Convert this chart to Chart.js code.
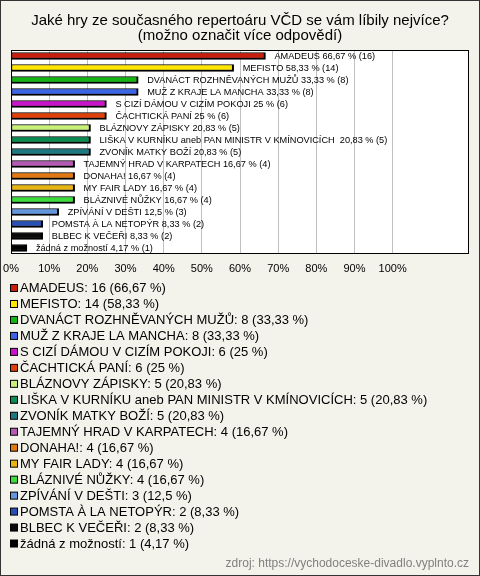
<!DOCTYPE html>
<html>
<head>
<meta charset="utf-8">
<script src="https://cdn.jsdelivr.net/npm/chart.js@4"></script>
<style>
  html, body { margin: 0; padding: 0; background: #f4f3eb; }
  #wrap { width: 480px; height: 576px; position: relative; }
</style>
</head>
<body>
<div id="wrap"><canvas id="hry" width="480" height="576"></canvas></div>
<script>
const categories = ['AMADEUS', 'MEFISTO', 'DVANÁCT ROZHNĚVANÝCH MUŽŮ', 'MUŽ Z KRAJE LA MANCHA',
  'S CIZÍ DÁMOU V CIZÍM POKOJI', 'ČACHTICKÁ PANÍ', 'BLÁZNOVY ZÁPISKY',
  'LIŠKA V KURNÍKU aneb PAN MINISTR V KMÍNOVICÍCH ', 'ZVONÍK MATKY BOŽÍ',
  'TAJEMNÝ HRAD V KARPATECH', 'DONAHA!', 'MY FAIR LADY', 'BLÁZNIVÉ NŮŽKY',
  'ZPÍVÁNÍ V DEŠTI', 'POMSTA À LA NETOPÝR', 'BLBEC K VEČEŘI', 'žádná z možností'];
const counts = [16, 14, 8, 8, 6, 6, 5, 5, 5, 4, 4, 4, 4, 3, 2, 2, 1];
const percents = ['66,67', '58,33', '33,33', '33,33', '25', '25', '20,83', '20,83', '20,83',
  '16,67', '16,67', '16,67', '16,67', '12,5', '8,33', '8,33', '4,17'];
const percentValues = [66.67, 58.33, 33.33, 33.33, 25, 25, 20.83, 20.83, 20.83,
  16.67, 16.67, 16.67, 16.67, 12.5, 8.33, 8.33, 4.17];
const colors = ['#c81e0e', '#ffe600', '#14b414', '#3c64e6', '#c814c8', '#e0400a', '#c8f078',
  '#0a8c50', '#1e7882', '#b45ab4', '#e07814', '#e6b414', '#3cdc3c', '#6496dc', '#2850b4',
  '#0a0a0a', '#000000'];
const tickValues = [0, 10, 20, 30, 40, 50, 60, 70, 80, 90, 100];
const titleLines = ['Jaké hry ze současného repertoáru VČD se vám líbily nejvíce?', '(možno označit více odpovědí)'];
const footer = 'zdroj: https://vychodoceske-divadlo.vyplnto.cz';

const FONT = '"Liberation Sans", Arial, sans-serif';

// background, frame, title, legend and footer
const decor = {
  id: 'decor',
  beforeDraw(chart) {
    const c = chart.ctx, a = chart.chartArea;
    c.save();
    c.fillStyle = '#f4f3eb';
    c.fillRect(0, 0, chart.width, chart.height);
    c.strokeStyle = '#333';
    c.lineWidth = 1;
    c.strokeRect(0.5, 0.5, chart.width - 1, chart.height - 1);
    c.fillStyle = '#ffffff';
    c.fillRect(a.left, a.top, a.right - a.left, a.bottom - a.top);
    c.restore();
  },
  afterDatasetsDraw(chart) {
    const c = chart.ctx, a = chart.chartArea;
    const meta = chart.getDatasetMeta(0);
    c.save();
    c.font = '9.2px ' + FONT;
    c.fillStyle = '#000';
    c.textBaseline = 'middle';
    meta.data.forEach((bar, i) => {
      c.fillText(categories[i] + ' ' + percents[i] + ' % (' + counts[i] + ')', bar.x + 9, bar.y);
    });
    c.strokeStyle = '#000';
    c.lineWidth = 1;
    c.strokeRect(a.left + 0.5, a.top + 0.5, a.right - a.left - 1, a.bottom - a.top - 1);
    c.restore();
  },
  afterDraw(chart) {
    const c = chart.ctx;
    c.save();
    c.fillStyle = '#000';
    c.textAlign = 'center';
    c.textBaseline = 'middle';
    c.font = '15px ' + FONT;
    titleLines.forEach((t, i) => c.fillText(t, chart.width / 2, 21 + i * 15));
    c.textAlign = 'left';
    c.font = '13px ' + FONT;
    categories.forEach((name, i) => {
      const y = 288.5 + i * 15.97;
      c.fillStyle = colors[i];
      c.fillRect(10.5, y - 4, 7, 7);
      c.strokeStyle = '#000';
      c.strokeRect(10.5, y - 4, 7, 7);
      c.fillStyle = '#000';
      c.fillText(name.trim() + ': ' + counts[i] + ' (' + percents[i] + ' %)', 20, y);
    });
    c.textAlign = 'right';
    c.font = '12px ' + FONT;
    c.fillStyle = '#808080';
    c.fillText(footer, 469, 564);
    c.restore();
  }
};

new Chart(document.getElementById('hry'), {
  type: 'bar',
  data: {
    labels: categories,
    datasets: [{
      data: percentValues,
      backgroundColor: colors,
      borderColor: '#000',
      borderWidth: { top: 1, left: 1, right: 2, bottom: 2 },
      borderSkipped: false,
      barThickness: 7
    }]
  },
  options: {
    indexAxis: 'y',
    responsive: false,
    animation: false,
    devicePixelRatio: 1,
    layout: { padding: { top: 50, left: 11, right: 11, bottom: 0 } },
    plugins: { legend: { display: false }, tooltip: { enabled: false }, title: { display: false } },
    scales: {
      y: { display: false },
      x: {
        min: 0, max: 120,
        afterBuildTicks(scale) { scale.ticks = tickValues.map(v => ({ value: v })); },
        afterFit(scale) {
          scale.height = 576 - 254;
          scale.paddingLeft = 0;
          scale.paddingRight = 0;
        },
        ticks: {
          padding: 8,
          maxRotation: 0,
          autoSkip: false,
          color: '#000',
          font: { size: 11, family: FONT },
          callback: v => v + '%'
        },
        grid: { color: '#c0c0c0', drawTicks: false },
        border: { display: false }
      }
    }
  },
  plugins: [decor]
});
</script>
</body>
</html>
